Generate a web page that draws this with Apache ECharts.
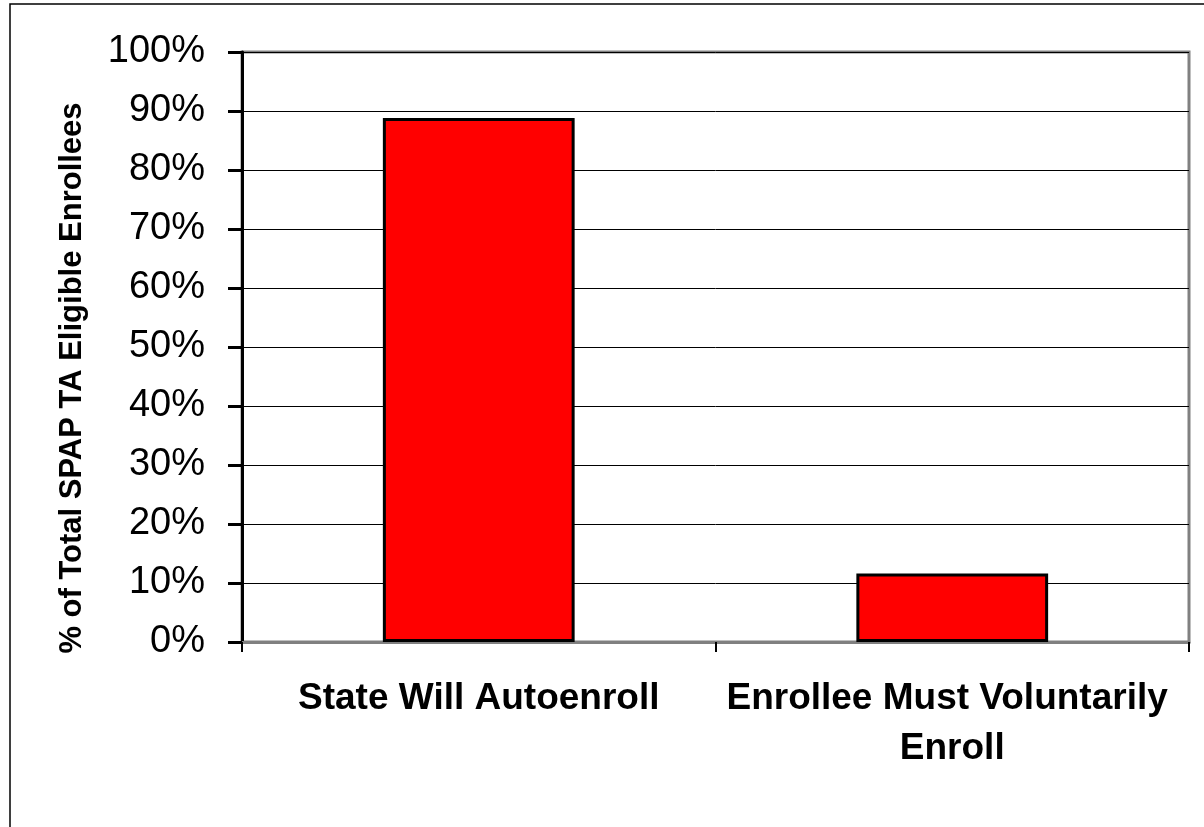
<!DOCTYPE html>
<html>
<head>
<meta charset="utf-8">
<script src="https://cdn.jsdelivr.net/npm/echarts@6/dist/echarts.min.js"></script>
<style>
  html, body { margin: 0; padding: 0; background: #fff; }
  #chart { width: 1204px; height: 827px; }
</style>
</head>
<body>
<div id="chart"></div>
<script>
// Enrollment method for SPAP TA eligible enrollees
const categories = ['State Will Autoenroll', 'Enrollee Must Voluntarily Enroll'];
const shares = [88.8, 11.6];
const yTicks = { min: 0, max: 100, interval: 10 };
const yTitle = '% of Total SPAP TA Eligible Enrollees';

const chart = echarts.init(document.getElementById('chart'), null, { renderer: 'canvas' });

chart.setOption({
  backgroundColor: '#ffffff',
  animation: false,
  grid: {
    left: 242, top: 52, right: 15, bottom: 185,
    show: true, borderColor: '#808080', borderWidth: 3, backgroundColor: 'transparent'
  },
  graphic: [
    {
      type: 'rect', silent: true, z: -1,
      shape: { x: 10, y: 4, width: 1300, height: 900 },
      style: { fill: 'none', stroke: '#000', lineWidth: 1.5 }
    },
    {
      type: 'text', silent: true,
      x: 72, y: 378, rotation: Math.PI / 2,
      style: {
        text: yTitle, fill: '#000',
        font: 'bold 31px "Liberation Sans", Arial, sans-serif',
        align: 'center', verticalAlign: 'middle'
      }
    }
  ],
  xAxis: {
    type: 'category',
    data: categories,
    axisLine: { lineStyle: { color: '#808080', width: 3 } },
    axisTick: { show: true, length: 10, lineStyle: { color: '#000', width: 2 } },
    axisLabel: {
      interval: 0,
      color: '#000', fontFamily: '"Liberation Sans", Arial, sans-serif',
      fontWeight: 'bold', fontSize: 37, lineHeight: 50, margin: 32,
      width: 465, overflow: 'break', align: 'center'
    },
    splitLine: { show: false }
  },
  yAxis: {
    type: 'value',
    min: yTicks.min, max: yTicks.max, interval: yTicks.interval,
    axisLine: { show: true, lineStyle: { color: '#000', width: 3 } },
    axisTick: { show: true, length: 14, lineStyle: { color: '#000', width: 3 } },
    axisLabel: {
      color: '#000', fontFamily: '"Liberation Sans", Arial, sans-serif',
      fontSize: 38, margin: 37, formatter: '{value}%'
    },
    splitLine: { show: true, lineStyle: { color: '#000', width: 1 } }
  },
  series: [{
    type: 'bar',
    data: shares,
    barWidth: '40.5%',
    itemStyle: { color: '#FF0000', borderColor: '#000', borderWidth: 3 }
  }]
});
</script>
</body>
</html>
